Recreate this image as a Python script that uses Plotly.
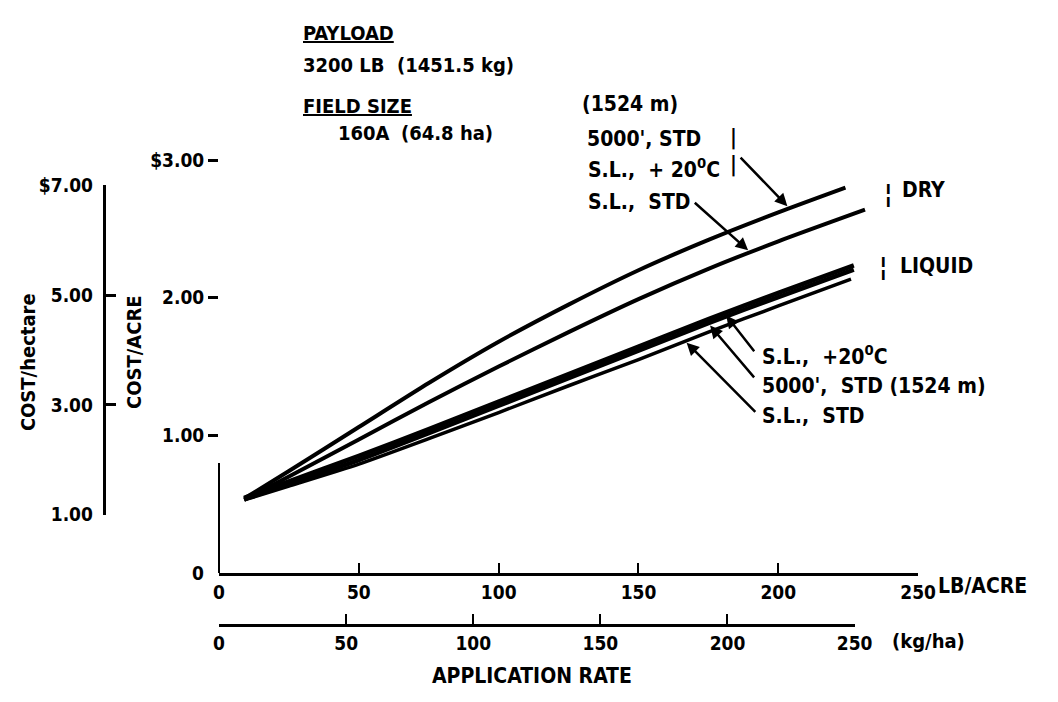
import numpy as np
import plotly.graph_objects as go

# ---------------- data ----------------
rate_dry_5000 = [9, 25, 50, 75, 100, 125, 150, 175, 200, 224]
cost_dry_5000 = [0.54, 0.74, 1.06, 1.38, 1.68, 1.95, 2.20, 2.42, 2.62, 2.80]

rate_dry_sl = [9, 25, 50, 75, 100, 125, 150, 175, 200, 231]
cost_dry_sl = [0.53, 0.70, 0.97, 1.24, 1.50, 1.75, 1.99, 2.21, 2.41, 2.64]

rate_liq = [9, 25, 50, 75, 100, 125, 150, 175, 200, 227]
cost_liq_sl20 = [0.545, 0.665, 0.85, 1.045, 1.245, 1.445, 1.645, 1.845, 2.035, 2.235]
cost_liq_5000 = [0.535, 0.645, 0.82, 1.015, 1.215, 1.415, 1.615, 1.815, 2.005, 2.205]

rate_liq_sl = [9, 25, 50, 75, 100, 125, 150, 175, 200, 226]
cost_liq_sl = [0.53, 0.63, 0.79, 0.975, 1.165, 1.36, 1.55, 1.75, 1.94, 2.135]

lb_ticks = [0, 50, 100, 150, 200, 250]
lb_labels = ["0", "50", "100", "150", "200", "250"]
kg_ticks = [0, 50, 100, 150, 200, 250]
kg_labels = ["0", "50", "100", "150", "200", "250"]
acre_ticks = [1, 2, 3]
acre_labels = ["1.00", "2.00", "$3.00"]
ha_ticks = [1, 3, 5, 7]
ha_labels = ["1.00", "3.00", "5.00", "$7.00"]

# ---------------- layout helpers ----------------
W, H = 1058, 702
FONT = "DejaVu Sans Condensed, Liberation Sans Narrow, sans-serif"


def fx(p):
    return p / W


def fy(p):
    return 1 - p / H


fig = go.Figure()

series = [
    (rate_dry_5000, cost_dry_5000, 4),
    (rate_dry_sl, cost_dry_sl, 4),
    (rate_liq, cost_liq_sl20, 4.5),
    (rate_liq, cost_liq_5000, 4.5),
    (rate_liq_sl, cost_liq_sl, 3.5),
]
for xs, ys, w in series:
    fig.add_trace(go.Scatter(x=xs, y=ys, mode="lines",
                             line=dict(color="black", width=w, shape="spline", smoothing=0.6),
                             hoverinfo="skip", showlegend=False))

# empty traces so the extra axes own subplots
fig.add_trace(go.Scatter(x=[], y=[], xaxis="x2", yaxis="y", showlegend=False))
fig.add_trace(go.Scatter(x=[], y=[], xaxis="x", yaxis="y3", showlegend=False))
fig.add_trace(go.Scatter(x=[], y=[], xaxis="x", yaxis="y4", showlegend=False))

tickfont = dict(family=FONT, size=19, color="black", weight="bold")

fig.update_layout(
    width=W, height=H,
    margin=dict(l=0, r=0, t=0, b=0),
    paper_bgcolor="white", plot_bgcolor="rgba(0,0,0,0)",
    font=dict(family=FONT, size=21, color="black", weight="bold"),
    showlegend=False,
    xaxis=dict(domain=[fx(218), fx(933.3)], range=[0, 250], anchor="y",
               showline=True, linecolor="black", linewidth=3,
               ticks="inside", ticklen=10, tickwidth=2, tickcolor="black",
               tickvals=lb_ticks, ticktext=lb_labels, tickfont=tickfont,
               showgrid=False, zeroline=False),
    xaxis2=dict(domain=[fx(218), fx(868.3)], range=[0, 250], anchor="free",
                position=fy(634),
                showline=True, linecolor="black", linewidth=3,
                ticks="inside", ticklen=10, tickwidth=2, tickcolor="black",
                tickvals=kg_ticks, ticktext=kg_labels, tickfont=tickfont,
                showgrid=False, zeroline=False),
    yaxis=dict(domain=[fy(580), fy(154)], range=[0, 3], anchor="x",
               showline=False, ticks="outside", ticklen=10, tickwidth=3,
               tickcolor="black", tickvals=acre_ticks, ticktext=acre_labels,
               tickfont=tickfont, showgrid=False, zeroline=False),
    yaxis3=dict(domain=[fy(520), fy(180)], range=[1, 7], anchor="free",
                position=fx(100), side="left",
                showline=True, linecolor="black", linewidth=3,
                ticks="inside", ticklen=10, tickwidth=3, tickcolor="black",
                tickvals=ha_ticks, ticktext=ha_labels, tickfont=tickfont,
                ticklabelstandoff=6,
                showgrid=False, zeroline=False),
    yaxis4=dict(domain=[fy(580), fy(467)], range=[0, 1], anchor="free",
                position=fx(218), side="left",
                showline=True, linecolor="black", linewidth=1.5,
                ticks="", showticklabels=False, showgrid=False, zeroline=False),
)

ann = []


def text(t, x, y, size=21, xanchor="left", angle=0):
    ann.append(dict(text=t, x=fx(x), y=fy(y), xref="paper", yref="paper",
                    xanchor=xanchor, yanchor="middle", showarrow=False,
                    textangle=angle,
                    font=dict(family=FONT, size=size, color="black", weight="bold")))


# header block
text("<u>PAYLOAD</u>", 302, 23, size=20)
text("3200 LB", 302, 56, size=20)
text("(1451.5 kg)", 398, 56, size=20)
text("<u>FIELD SIZE</u>", 302, 98, size=20)
text("160A", 338, 126, size=20)
text("(64.8 ha)", 402, 126, size=20)

# dry labels
text("(1524 m)", 587, 96)
text("5000', STD", 592, 132)
text("S.L.,  + 20<sup>0</sup>C", 593, 162)
text("S.L.,  STD", 593, 197)
text("<b>|</b>", 739, 131, size=21)
text("<b>|</b>", 739, 158, size=21)
text("¦", 896, 188, size=26)
text("DRY", 915, 185)
text("¦", 891, 263, size=26)
text("LIQUID", 913, 263)

# liquid labels
text("S.L.,  +20<sup>0</sup>C", 771, 355)
text("5000',  STD (1524 m)", 771, 387)
text("S.L.,  STD", 771, 418)

# axis titles
text("COST/hectare", 22, 363, size=20, xanchor="center", angle=-90)
text("COST/ACRE", 131, 352, size=20, xanchor="center", angle=-90)
text("APPLICATION RATE", 538, 687, size=21, xanchor="center")
text("LB/ACRE", 952, 594, size=21)
text("(kg/ha)", 905, 650, size=20)
text("0", 205, 580, size=19, xanchor="right")


# leader arrows (tip on a curve, tail near a label)
def leader(xs, ys, tip_x, tail_x, tail_y, standoff=2):
    tip_y = float(np.interp(tip_x, xs, ys))
    ann.append(dict(x=tip_x, y=tip_y, xref="x", yref="y",
                    ax=tail_x, ay=tail_y, axref="x", ayref="y",
                    text="", showarrow=True, arrowhead=2, arrowsize=1,
                    arrowwidth=2.5, arrowcolor="black", standoff=standoff))


leader(rate_dry_5000, cost_dry_5000, 204, 186.0, 3.03, standoff=3)
leader(rate_dry_sl, cost_dry_sl, 190, 169.6, 2.70, standoff=3)
leader(rate_liq, cost_liq_sl20, 180.7, 191.8, 1.60, standoff=3)
leader(rate_liq, cost_liq_5000, 174.9, 191.8, 1.41, standoff=3)
leader(rate_liq_sl, cost_liq_sl, 166.7, 192.3, 1.16, standoff=2)

fig.update_layout(annotations=ann)

fig.write_html("out.html",
               config={"displayModeBar": False},
               post_script="document.body.style.margin='0';document.body.style.overflow='hidden';")
